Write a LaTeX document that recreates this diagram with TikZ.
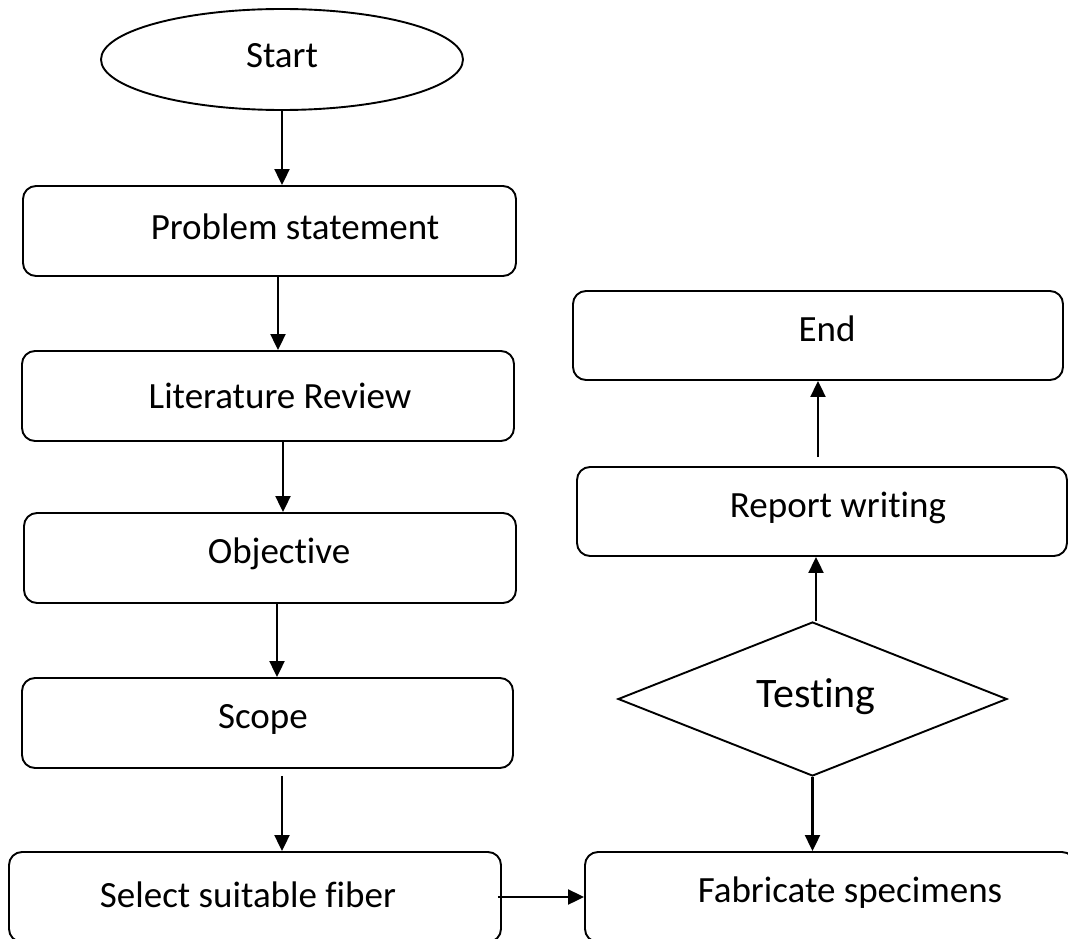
\documentclass[tikz,border=0pt]{standalone}
\usepackage{fontspec}
\setmainfont{Carlito}[Ligatures=NoCommon]
\usetikzlibrary{shapes.geometric,arrows.meta}

\tikzset{
  shapeline/.style={draw=black, line width=1.9pt},
  stepbox/.style={shapeline, rectangle, rounded corners=13pt, inner sep=0pt},
  startshape/.style={shapeline, ellipse, inner sep=0pt},
  decision/.style={shapeline, diamond, inner sep=0pt},
  txt/.style={font=\fontsize{37}{44}\selectfont, anchor=base, inner sep=0pt},
  bigtxt/.style={font=\fontsize{42}{50}\selectfont, anchor=base, inner sep=0pt},
  arr/.style={line width=2.1pt, -{Triangle[length=16pt,width=15pt]}}
}

\begin{document}
\begin{tikzpicture}[x=1pt, y=-1pt]
  \useasboundingbox (0,0) rectangle (1068,939);
  \clip (0,0) rectangle (1068,939);

  % left column of steps
  \node[startshape, minimum width=362pt, minimum height=101pt] (start) at (282,59.5) {};
  \node[stepbox, minimum width=493pt, minimum height=90pt] (prob)   at (269.5,231) {};
  \node[stepbox, minimum width=492pt, minimum height=90pt] (lit)    at (268,396) {};
  \node[stepbox, minimum width=492pt, minimum height=90pt] (obj)    at (270,558) {};
  \node[stepbox, minimum width=491pt, minimum height=90pt] (scope)  at (267.5,723) {};
  \node[stepbox, minimum width=492pt, minimum height=90pt] (select) at (255,897) {};

  % right column of steps
  \node[stepbox, minimum width=490pt, minimum height=90pt] (fab)    at (830,897) {};
  \node[decision, minimum width=389pt, minimum height=154pt] (test) at (812.5,699) {};
  \node[stepbox, minimum width=490pt, minimum height=89pt] (report) at (822,511.5) {};
  \node[stepbox, minimum width=490pt, minimum height=89pt] (end)    at (818,335.5) {};

  % labels
  \node[txt] (tstart)  at (282,68)  {Start};
  \node[txt] (tprob)   at (295,239) {Problem statement};
  \node[txt] (tlit)    at (280,408) {Literature Review};
  \node[txt] (tobj)    at (279,563) {Objective};
  \node[txt] (tscope)  at (263,728) {Scope};
  \node[txt] (tselect) at (248,907) {Select suitable fiber};
  \node[txt] (tfab)    at (850,902) {Fabricate specimens};
  \node[bigtxt] (ttest) at (816,707) {Testing};
  \node[txt] (treport) at (838,517) {Report writing};
  \node[txt] (tend)    at (827,341) {End};

  % connectors
  \draw[arr] (start.south) -- (start.south |- prob.north);
  \draw[arr] ([xshift=8.5pt]prob.south) -- ([xshift=8.5pt]prob.south |- lit.north);
  \draw[arr] ([xshift=15pt]lit.south) -- ([xshift=15pt]lit.south |- obj.north);
  \draw[arr] ([xshift=7pt]obj.south) -- ([xshift=7pt]obj.south |- scope.north);
  \draw[arr] ([xshift=14.5pt,yshift=-7pt]scope.south) -- ([xshift=14.5pt]scope.south |- select.north);
  \draw[arr] ([xshift=-4pt]select.east) -- (select.east -| fab.west);
  \draw[arr] (test.south) -- (test.south |- fab.north);
  \draw[arr] ([xshift=3.5pt]test.north) -- ([xshift=3.5pt]test.north |- report.south);
  \draw[arr] ([yshift=9pt]report.north -| end.south) -- (end.south);
\end{tikzpicture}
\end{document}
